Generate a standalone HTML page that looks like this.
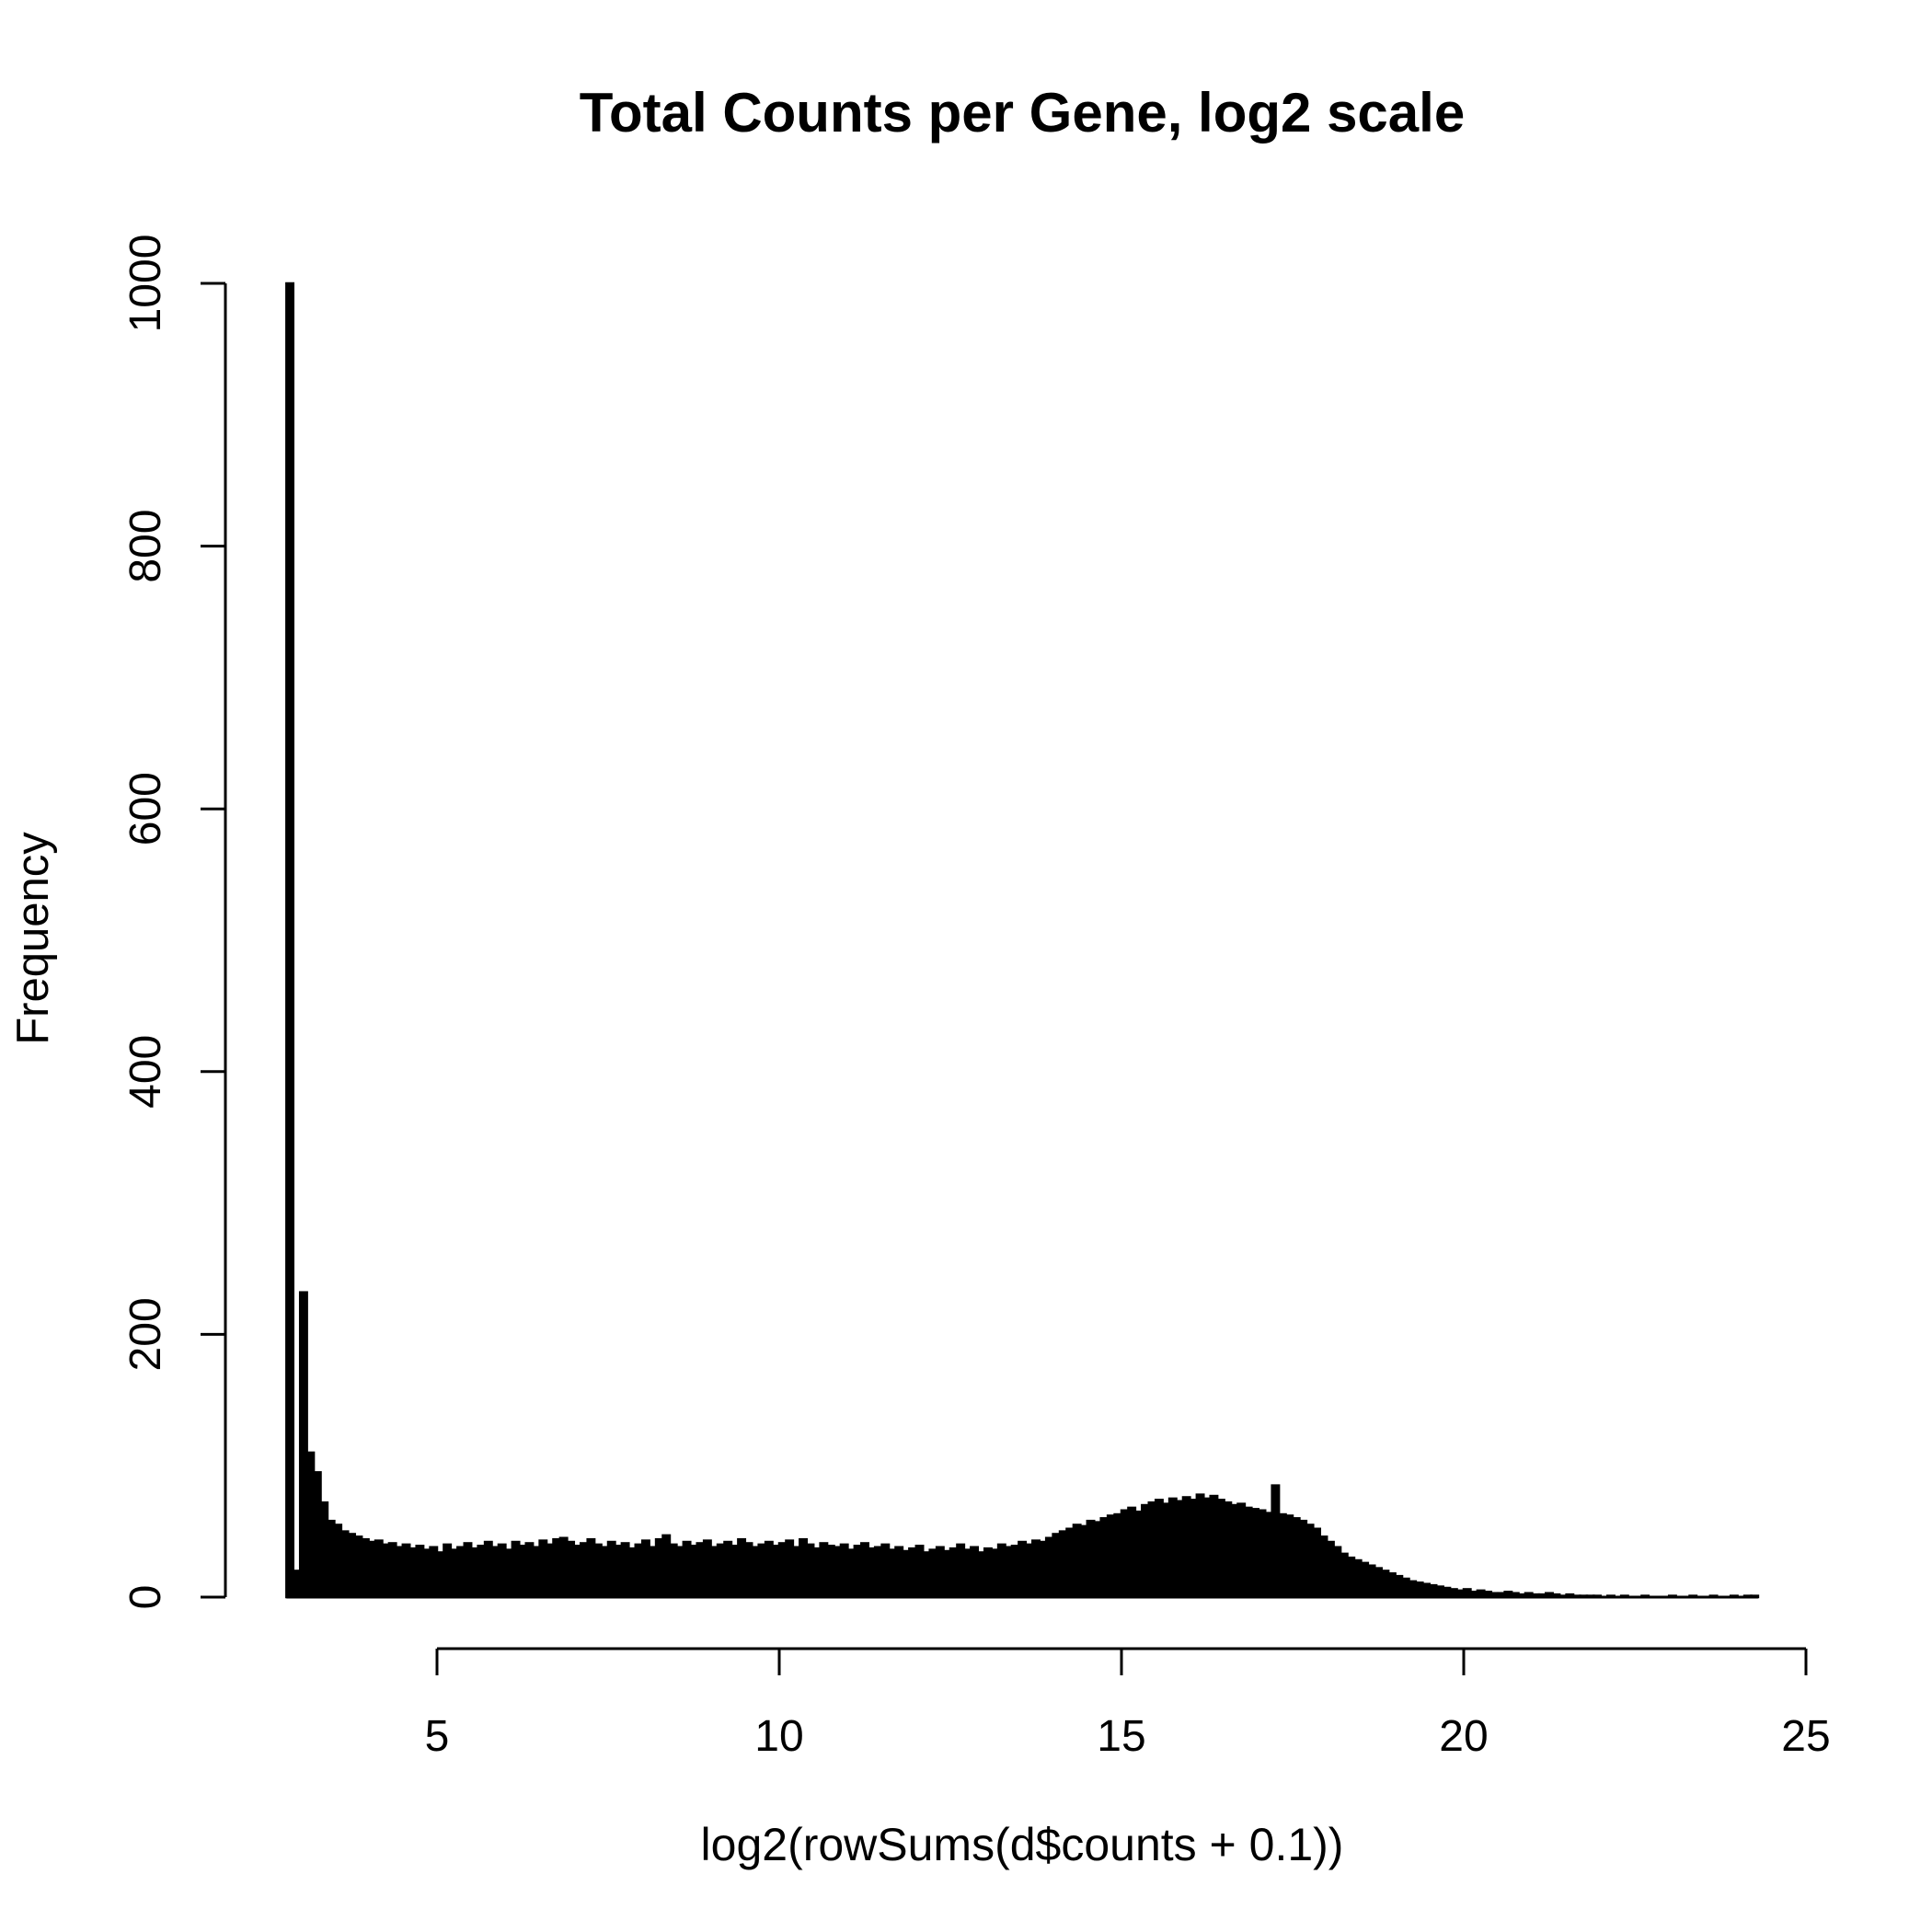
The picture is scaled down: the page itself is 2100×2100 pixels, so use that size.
<!DOCTYPE html>
<html><head><meta charset="utf-8"><style>
html,body{margin:0;padding:0;background:#fff;}
svg{display:block;}
text{font-family:"Liberation Sans",Arial,sans-serif;fill:#000;}
</style></head><body>
<svg id="chart" width="2100" height="2100" viewBox="0 0 2100 2100" xmlns="http://www.w3.org/2000/svg">
<rect width="2100" height="2100" fill="#fff"/>
<text x="1111" y="143" font-size="60" font-weight="bold" text-anchor="middle">Total Counts per Gene, log2 scale</text>
<text x="1111" y="2022" font-size="50" text-anchor="middle">log2(rowSums(d$counts + 0.1))</text>
<text transform="translate(52,1020) rotate(-90)" font-size="49" text-anchor="middle">Frequency</text>
<g id="bars"></g>
<g id="axes"></g>
</svg>
<script>
const binStart = 2.8;
const binWidth = 0.1;
const counts = [
1000,20,232,110,95,72,58,55,50,48,
46,44,42,43,40,41,38,40,37,39,
36,38,34,40,36,38,41,37,39,42,
38,40,36,42,39,41,38,43,40,44,
45,42,39,41,44,40,38,42,39,41,
37,40,43,38,44,47,40,38,42,39,
41,43,38,40,42,39,44,41,38,40,
42,39,41,43,38,44,40,37,41,39,
38,40,36,39,41,37,38,40,36,38,
35,37,39,34,36,38,35,37,40,36,
38,34,37,36,40,38,39,42,40,43,
42,45,48,50,52,55,54,58,57,60,
62,63,66,68,65,70,72,74,71,75,
73,76,74,78,75,77,74,72,70,71,
68,67,66,64,85,63,62,60,58,55,
52,46,42,38,33,30,28,26,24,22,
20,18,16,14,12,11,10,9,8,7,
6,5,6,4,5,4,3,3,4,3,
2,3,2,2,3,2,1,2,1,1,
1,1,0,1,0,1,0,0,1,0,
0,0,1,0,0,1,0,0,1,0,
0,1,0,1,1
];
const xTicks = [5,10,15,20,25];
const yTicks = [0,200,400,600,800,1000];

const NS = "http://www.w3.org/2000/svg";
function xs(v){ return 475 + (v-5)*(1963-475)/20; }
function ys(v){ return 1736 - v*(1736-308)/1000; }
function mk(tag, attrs, parent){
  const e = document.createElementNS(NS, tag);
  for (const k in attrs) e.setAttribute(k, attrs[k]);
  parent.appendChild(e); return e;
}
const bars = document.getElementById('bars');
const axes = document.getElementById('axes');
counts.forEach((c,i)=>{
  const x0 = xs(binStart + i*binWidth), x1 = xs(binStart + (i+1)*binWidth);
  const r = mk('rect',{x:x0,y:ys(c),width:x1-x0,height:ys(0)-ys(c),fill:'#000',stroke:'#000','stroke-width':2.5},bars);
  
  
});
const base = mk('line',{x1:xs(binStart),x2:xs(binStart+counts.length*binWidth),y1:ys(0),y2:ys(0),stroke:'#000','stroke-width':3},bars);



const ya = mk('line',{x1:245,x2:245,y1:ys(yTicks[0]),y2:ys(yTicks[yTicks.length-1]),stroke:'#000','stroke-width':3},axes);


yTicks.forEach(t=>{
  const tk = mk('line',{x1:218,x2:245,y1:ys(t),y2:ys(t),stroke:'#000','stroke-width':3},axes);
  
  
  const tx = mk('text',{transform:`translate(174,${ys(t)}) rotate(-90)`,'font-size':48,'text-anchor':'middle'},axes);
  tx.textContent = t;
  
  
});
const xa = mk('line',{x1:xs(xTicks[0]),x2:xs(xTicks[xTicks.length-1]),y1:1792,y2:1792,stroke:'#000','stroke-width':3},axes);


xTicks.forEach(t=>{
  const tk = mk('line',{x1:xs(t),x2:xs(t),y1:1792,y2:1821,stroke:'#000','stroke-width':3},axes);
  
  
  const tx = mk('text',{x:xs(t),y:1903,'font-size':48,'text-anchor':'middle'},axes);
  tx.textContent = t;
  
  
});
</script>
</body></html>
